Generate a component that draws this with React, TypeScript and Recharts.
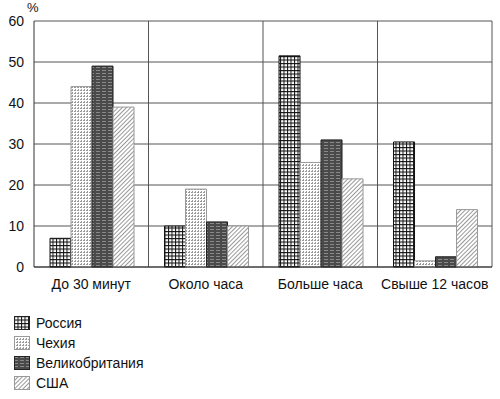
import { BarChart, Bar, XAxis, YAxis, CartesianGrid } from 'recharts';

const categories = ['До 30 минут', 'Около часа', 'Больше часа', 'Свыше 12 часов'];
const russia = [7, 10, 51.5, 30.5];
const czech = [44, 19, 25.5, 1.5];
const uk = [49, 11, 31, 2.5];
const usa = [39, 10, 21.5, 14];
const yTicks = [0, 10, 20, 30, 40, 50, 60];
const seriesNames = ['Россия', 'Чехия', 'Великобритания', 'США'];

const data = categories.map((name, i) => ({
  name,
  russia: russia[i],
  czech: czech[i],
  uk: uk[i],
  usa: usa[i],
}));

const FONT = '"Liberation Sans Narrow", "Arial Narrow", "Liberation Sans", Arial, sans-serif';
const patternIds = ['patRu', 'patCz', 'patUk', 'patUs'];

function Patterns() {
  return (
    <defs>
      <pattern id="patRu" width="3.5" height="3.5" patternUnits="userSpaceOnUse">
        <rect width="3.5" height="3.5" fill="#fff" />
        <path d="M0 0.5H3.5M0.5 0V3.5" stroke="#111" strokeWidth="1" />
      </pattern>
      <pattern id="patCz" width="3" height="3" patternUnits="userSpaceOnUse">
        <rect width="3" height="3" fill="#fff" />
        <path d="M0 0.5H3M0.5 0V3" stroke="#999" strokeWidth="1" strokeDasharray="1 1" />
      </pattern>
      <pattern id="patUk" width="6" height="3" patternUnits="userSpaceOnUse">
        <rect width="6" height="3" fill="#4a4a4a" />
        <path d="M0 1.5H4" stroke="#8a8a8a" strokeWidth="1" />
      </pattern>
      <pattern id="patUs" width="3" height="3" patternUnits="userSpaceOnUse" patternTransform="rotate(45)">
        <rect width="3" height="3" fill="#fff" />
        <path d="M0.5 0V3" stroke="#999" strokeWidth="1" />
      </pattern>
    </defs>
  );
}

// vertical lines sit on the category boundaries, not on the category centres
const boundaryLines = ({ offset }: any) =>
  categories.map((_, i) => offset.left + (offset.width * (i + 1)) / categories.length);

export default function App() {
  return (
    <div style={{ position: 'absolute', left: 0, top: 0, width: 500, height: 399, background: '#fff', fontFamily: FONT }}>
      <div style={{ position: 'absolute', left: 27, top: 1, fontSize: 13, lineHeight: '14px', color: '#111' }}>%</div>
      <BarChart
        width={500}
        height={300}
        data={data}
        margin={{ top: 21, right: 8, left: 0, bottom: 3 }}
        barCategoryGap="14%"
        barGap={0}
      >
        <Patterns />
        <CartesianGrid stroke="#555" strokeWidth={1} verticalCoordinatesGenerator={boundaryLines} />
        <XAxis
          dataKey="name"
          height={30}
          tickLine={false}
          axisLine={{ stroke: '#333' }}
          tick={{ fontSize: 14, fill: '#111', fontFamily: FONT }}
          interval={0}
          tickMargin={6}
        />
        <YAxis
          width={34}
          domain={[0, 60]}
          ticks={yTicks}
          tickLine={false}
          axisLine={{ stroke: '#333' }}
          tick={{ fontSize: 14, fill: '#111', fontFamily: FONT }}
          tickMargin={4}
        />
        <Bar dataKey="russia" fill="url(#patRu)" stroke="#111" strokeWidth={1} isAnimationActive={false} />
        <Bar dataKey="czech" fill="url(#patCz)" stroke="#999" strokeWidth={1} isAnimationActive={false} />
        <Bar dataKey="uk" fill="url(#patUk)" stroke="#222" strokeWidth={1} isAnimationActive={false} />
        <Bar dataKey="usa" fill="url(#patUs)" stroke="#999" strokeWidth={1} isAnimationActive={false} />
      </BarChart>
      <div style={{ position: 'absolute', left: 14, top: 313 }}>
        {seriesNames.map((n, i) => (
          <div key={n} style={{ display: 'flex', alignItems: 'center', height: 20, fontSize: 14, color: '#111' }}>
            <svg width={16} height={14} style={{ marginRight: 6 }}>
              <rect x={0.5} y={0.5} width={15} height={13} fill={`url(#${patternIds[i]})`} stroke={i === 1 || i === 3 ? '#999' : '#222'} />
            </svg>
            {n}
          </div>
        ))}
      </div>
    </div>
  );
}
